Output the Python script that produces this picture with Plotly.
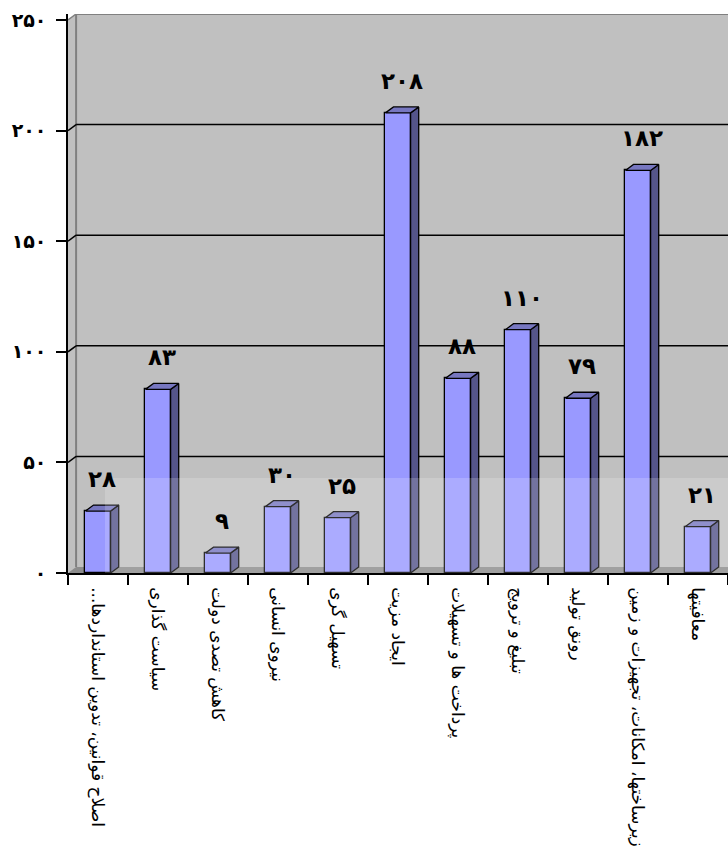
import plotly.graph_objects as go

categories = [
    "اصلاح قوانین، تدوین استانداردها...\u200F",
    "سیاست گذاری",
    "کاهش تصدی دولت",
    "نیروی انسانی",
    "تسهیل گری",
    "ایجاد مزیت",
    "پرداخت ها و تسهیلات",
    "تبلیغ و ترویج",
    "رونق تولید",
    "زیرساختها، امکانات، تجهیزات و زمین",
    "معافیتها",
]
values = [28, 83, 9, 30, 25, 208, 88, 110, 79, 182, 21]
y_ticks = [0, 50, 100, 150, 200, 250]

FA = str.maketrans("0123456789", "۰۱۲۳۴۵۶۷۸۹")
def fa(n):
    return str(n).translate(FA)

BAR_W = 0.42
DX = 0.135
DY = 2.7
FRONT = "#9999FF"
SIDE = "#55558A"
TOP = "#7777C0"
BG = "#C0C0C0"
FONT = "DejaVu Sans"

xs = list(range(len(categories)))

fig = go.Figure()
fig.add_trace(go.Bar(
    x=xs, y=values, width=BAR_W,
    marker=dict(color=FRONT, line=dict(color="black", width=1.3)),
    hoverinfo="skip", showlegend=False,
))

side_x, side_y, top_x, top_y = [], [], [], []
for i, v in zip(xs, values):
    r = i + BAR_W / 2
    l = i - BAR_W / 2
    side_x += [r, r + DX, r + DX, r, r, None]
    side_y += [0, DY, v + DY, v, 0, None]
    top_x += [l, l + DX, r + DX, r, l, None]
    top_y += [v, v + DY, v + DY, v, v, None]

fig.add_trace(go.Scatter(x=side_x, y=side_y, mode="lines", fill="toself",
                         fillcolor=SIDE, line=dict(color="black", width=1.3),
                         hoverinfo="skip", showlegend=False))
fig.add_trace(go.Scatter(x=top_x, y=top_y, mode="lines", fill="toself",
                         fillcolor=TOP, line=dict(color="black", width=1.3),
                         hoverinfo="skip", showlegend=False))

x_lo, x_hi = -0.5, len(categories) - 0.5
ymax = y_ticks[-1]

shapes = []
# floor
shapes.append(dict(type="path", xref="x", yref="y", layer="between",
                   path=f"M {x_lo},0 L {x_lo+DX},{DY} L {x_hi+DX},{DY} L {x_hi},0 Z",
                   fillcolor="#8C8C8C", line=dict(width=0)))
# top-left white corner
shapes.append(dict(type="path", xref="x", yref="y", layer="between",
                   path=f"M {x_lo},{ymax} L {x_lo},{ymax+DY} L {x_lo+DX},{ymax+DY} Z",
                   fillcolor="white", line=dict(width=0)))
# wall corner line
shapes.append(dict(type="line", xref="x", yref="y", layer="between",
                   x0=x_lo + DX, x1=x_lo + DX, y0=DY, y1=ymax + DY,
                   line=dict(color="#808080", width=2)))
# top edge of back wall
shapes.append(dict(type="line", xref="x", yref="y", layer="between",
                   x0=x_lo + DX, x1=x_hi + 1, y0=ymax + DY, y1=ymax + DY,
                   line=dict(color="#808080", width=2)))
shapes.append(dict(type="line", xref="x", yref="y", layer="between",
                   x0=x_lo, x1=x_lo + DX, y0=ymax, y1=ymax + DY,
                   line=dict(color="#808080", width=1.5)))
# gridlines on back wall
for v in y_ticks[1:-1]:
    shapes.append(dict(type="line", xref="x", yref="y", layer="between",
                       x0=x_lo + DX, x1=x_hi + 1, y0=v + DY, y1=v + DY,
                       line=dict(color="black", width=1.5)))
    shapes.append(dict(type="line", xref="x", yref="y", layer="between",
                       x0=x_lo, x1=x_lo + DX, y0=v, y1=v + DY,
                       line=dict(color="black", width=1.5)))
# translucent watermark panel
shapes.append(dict(type="rect", xref="paper", yref="paper", layer="above",
                   x0=0.056, x1=1.0, y0=0.0, y1=0.17,
                   fillcolor="white", opacity=0.18, line=dict(width=0)))

annotations = []
for i, v in zip(xs, values):
    annotations.append(dict(x=i + DX / 2, y=v + DY, xref="x", yref="y",
                            text=fa(v), showarrow=False, yanchor="bottom",
                            yshift=11,
                            font=dict(family=FONT, size=23, color="black", weight="bold")))

fig.update_layout(
    width=728, height=861,
    margin=dict(l=68, r=0, t=14, b=288),
    paper_bgcolor="white",
    plot_bgcolor=BG,
    shapes=shapes,
    annotations=annotations,
    bargap=0,
    xaxis=dict(
        range=[x_lo, x_hi], tickmode="array", tickvals=xs, ticktext=categories,
        tickangle=90, ticks="", showgrid=False, zeroline=False,
        showline=True, linecolor="black", linewidth=1.5,
        tickfont=dict(family=FONT, size=17, color="black"),
        ticklabelstandoff=9,
        automargin=False,
        minor=dict(tickmode="array", tickvals=[i - 0.5 for i in range(len(categories) + 1)],
                   ticks="outside", ticklen=10, tickcolor="black", tickwidth=1.5),
        fixedrange=True,
    ),
    yaxis=dict(
        range=[0, ymax + DY], tickmode="array", tickvals=y_ticks,
        ticktext=[fa(t) for t in y_ticks],
        ticks="outside", ticklen=10, tickcolor="black", tickwidth=1.5,
        showgrid=False, zeroline=False,
        showline=True, linecolor="black", linewidth=1.5,
        tickfont=dict(family=FONT, size=19, color="black", weight="bold"),
        ticklabelstandoff=6,
        automargin=False,
        fixedrange=True,
    ),
)

fig.write_html("out.html")
